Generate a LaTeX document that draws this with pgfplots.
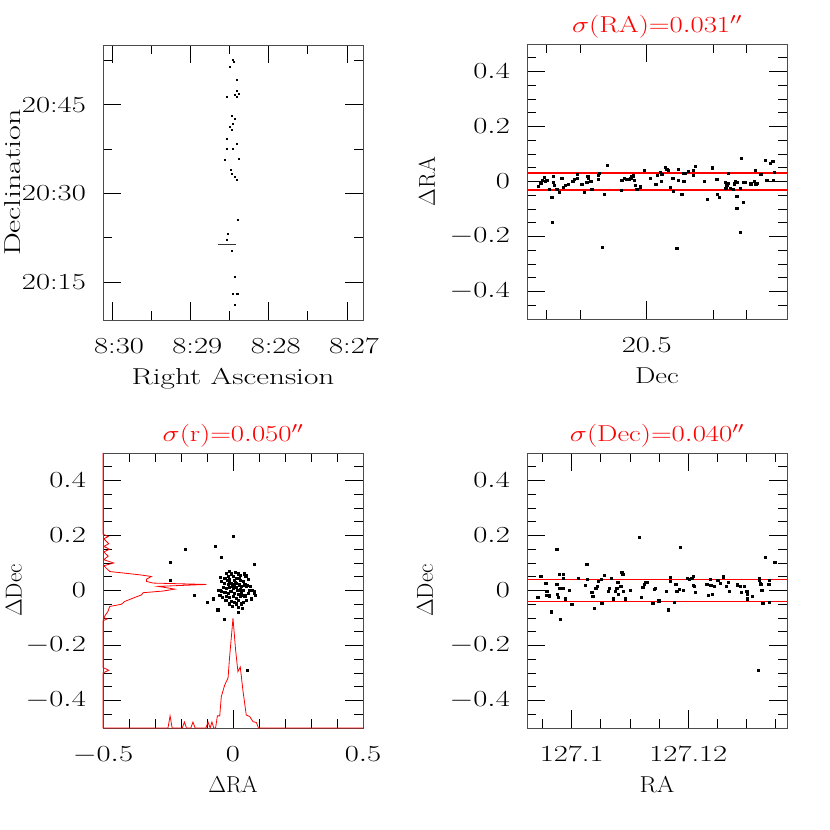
\RequirePackage{fix-cm}
\documentclass[border=0pt]{standalone}
\usepackage{fontspec}
\usepackage{graphicx}
\usepackage{pgfplots}
\pgfplotsset{compat=1.18}
\definecolor{sigred}{RGB}{255,0,0}

% SM fonts are wide: stretch every text horizontally
\newcommand{\sx}[1]{\scalebox{1.33}[1]{#1}}

\pgfplotsset{
  smpanel/.style={
    scale only axis, width=260pt, height=275pt,
    tick align=inside, major tick length=18pt, minor tick length=9pt,
    axis line style={black!70, line width=0.9pt},
    major tick style={black, line width=0.9pt},
    minor tick style={black, line width=0.9pt},
    xticklabel style={font=\fontsize{23}{27}\selectfont, anchor=base, inner sep=0pt, yshift=-34pt},
    yticklabel style={font=\fontsize{23}{27}\selectfont, anchor=east, inner sep=0pt, xshift=-17pt},
    xlabel style={font=\fontsize{23}{27}\selectfont, at={(axis description cs:0.5,-0.236)}, anchor=base, inner sep=0pt},
    ylabel style={font=\fontsize{23}{27}\selectfont, anchor=center},
    title style={font=\fontsize{23}{27}\selectfont, at={(axis description cs:0.5,1)}, anchor=base,
                 inner sep=0pt, yshift=5pt, text=sigred},
  },
  dpanel/.style={
    smpanel, ymin=-0.5, ymax=0.5,
    ytick={-0.4,-0.2,0,0.2,0.4},
    minor ytick={-0.45,-0.35,-0.3,-0.25,-0.15,-0.1,-0.05,0.05,0.1,0.15,0.25,0.3,0.35,0.45},
    yticklabel={\sx{$\pgfmathprintnumber{\tick}$}},
  },
  stardots/.style={only marks, mark=square*, mark size=1.05pt, mark options={draw=none, fill=black}},
  sigline/.style={draw=sigred, line width=1.4pt, mark=none, forget plot},
}

\begin{document}
\begin{tikzpicture}
\path[use as bounding box] (0pt,0pt) rectangle (830pt,830pt);

% ---- top left: sky positions (RA in minutes past 8h, Dec in arcmin past 20 deg)
\begin{axis}[smpanel, at={(103pt,785pt)}, anchor=north west,
  x dir=reverse, xmin=26.796, xmax=30.115, ymin=8.6, ymax=55.1,
  xtick={27,28,29,30}, xticklabels={\sx{8:27},\sx{8:28},\sx{8:29},\sx{8:30}},
  minor xtick={27.5,28.5,29.5},
  ytick={15,30,45}, yticklabels={\sx{20:15},\sx{20:30},\sx{20:45}},
  minor ytick={22.5,37.5,52.5},
  xticklabel style={xshift=7pt},
  xlabel={\scalebox{1.36}[1]{Right Ascension}},
  ylabel={\scalebox{1.4}[1]{Declination}},
  ylabel style={at={(axis description cs:-0.346,0.5)}},
]
\addplot[only marks, mark=square*, mark size=0.55pt, mark options={draw=none, fill=black}] coordinates {
(28.455,52.56)(28.442,52.27)(28.497,51.43)(28.412,49.30)(28.404,47.32)(28.386,46.93)
(28.433,46.76)(28.539,46.35)(28.404,46.35)(28.476,43.09)(28.433,42.70)(28.455,41.85)
(28.497,41.28)(28.467,40.72)(28.531,39.32)(28.404,38.47)(28.531,37.63)(28.455,37.63)
(28.561,35.65)(28.378,35.94)(28.488,33.96)(28.476,33.40)(28.433,32.82)(28.404,32.38)
(28.391,25.50)(28.518,23.14)(28.539,22.24)(28.476,20.31)(28.433,15.91)(28.463,13.11)
(28.404,13.11)(28.392,13.11)(28.433,11.13)
};
\addplot[black!80, line width=0.7pt] coordinates {(28.646,21.39)(28.412,21.39)};
\end{axis}

% ---- top right: Delta RA against Dec
\begin{axis}[dpanel, at={(527pt,786pt)}, anchor=north west, clip=false,
  xmin=20.141, xmax=20.921,
  xtick={20.5}, xticklabels={\sx{20.5}},
  minor xtick={20.2,20.3,20.7,20.8},
  xlabel={\scalebox{1.25}[1]{Dec}},
  ylabel={$\Delta$RA},
  ylabel style={at={(axis description cs:-0.385,0.5)}},
  title={\scalebox{1.25}[1]{$\sigma(\mathrm{RA}){=}0.031''$}},
]
\addplot[stardots] coordinates {
(20.175,-0.016)(20.182,-0.007)(20.187,0.005)(20.192,0.015)(20.195,0.001)(20.200,0.004)
(20.208,-0.027)(20.215,-0.058)(20.217,-0.149)(20.220,0.019)(20.220,-0.002)(20.222,-0.012)
(20.230,-0.029)(20.238,-0.039)(20.245,0.013)(20.250,-0.021)(20.256,-0.015)(20.265,-0.011)
(20.278,0.001)(20.282,0.007)(20.292,0.027)(20.292,0.012)(20.305,-0.010)(20.312,-0.039)
(20.320,-0.004)(20.323,0.018)(20.325,0.012)(20.332,0.001)(20.335,-0.029)(20.355,0.022)
(20.355,0.007)(20.357,0.029)(20.367,-0.238)(20.372,-0.045)(20.382,0.060)(20.423,-0.033)
(20.425,0.005)(20.432,0.013)(20.440,0.007)(20.446,0.007)(20.452,0.013)(20.455,0.019)
(20.460,0.021)(20.463,0.005)(20.465,-0.013)(20.470,-0.027)(20.480,-0.019)(20.492,0.042)
(20.510,0.012)(20.527,-0.010)(20.532,0.024)(20.540,0.034)(20.544,0.000)(20.545,0.028)
(20.555,0.052)(20.560,0.044)(20.565,0.040)(20.570,-0.022)(20.578,0.013)(20.580,-0.034)
(20.590,-0.242)(20.595,0.044)(20.595,0.006)(20.605,-0.045)(20.609,0.031)(20.611,0.002)
(20.615,0.031)(20.625,0.037)(20.640,0.042)(20.640,0.022)(20.646,0.057)(20.673,0.001)
(20.682,-0.065)(20.696,0.050)(20.710,0.007)(20.711,-0.045)(20.718,-0.057)(20.736,-0.001)
(20.740,-0.015)(20.744,0.030)(20.745,-0.005)(20.737,-0.024)(20.750,-0.023)(20.760,-0.027)
(20.763,-0.008)(20.765,0.000)(20.770,-0.002)(20.770,-0.054)(20.770,-0.097)(20.780,-0.184)
(20.783,0.086)(20.780,-0.024)(20.789,-0.002)(20.790,-0.075)(20.795,-0.002)(20.812,-0.008)
(20.822,0.001)(20.825,0.040)(20.827,-0.008)(20.832,-0.006)(20.842,0.028)(20.856,0.079)
(20.860,0.005)(20.870,0.068)(20.878,0.073)(20.880,0.004)(20.883,0.033)
};
\addplot[sigline] coordinates {(20.141,0.031)(20.921,0.031)};
\addplot[sigline] coordinates {(20.141,-0.031)(20.921,-0.031)};
\end{axis}

% ---- bottom left: Delta Dec against Delta RA, with both histograms
\begin{axis}[dpanel, at={(103pt,377pt)}, anchor=north west, clip=false,
  xmin=-0.5, xmax=0.5,
  xtick={-0.5,0,0.5},
  xticklabel={\sx{$\pgfmathprintnumber{\tick}$}},
  minor xtick={-0.4,-0.3,-0.2,-0.1,0.1,0.2,0.3,0.4},
  xlabel={$\Delta$RA},
  ylabel={$\Delta$Dec},
  ylabel style={at={(axis description cs:-0.343,0.5)}},
  title={\scalebox{1.25}[1]{$\sigma(\mathrm{r}){=}0.050''$}},
]
\addplot[stardots] coordinates {
(0.000,0.196)(-0.183,0.150)(-0.067,0.160)(-0.243,0.104)(-0.045,0.120)(0.083,0.096)
(-0.240,0.039)(-0.150,-0.016)(-0.100,-0.042)(-0.077,-0.030)(-0.059,-0.070)(-0.035,-0.103)
(0.054,-0.291)(0.019,-0.079)
(-0.026,0.063)(-0.015,0.069)(-0.006,0.061)(0.000,0.053)(0.019,0.061)(0.028,0.057)
(0.042,0.061)(0.049,0.051)(-0.032,0.045)(-0.023,0.039)(-0.013,0.041)(0.004,0.039)
(0.013,0.045)(0.026,0.039)(0.038,0.033)(-0.045,0.033)(-0.035,0.027)(-0.019,0.024)
(-0.006,0.027)(0.003,0.021)(0.013,0.027)(0.023,0.021)(0.032,0.017)(0.045,0.021)
(0.051,0.015)(0.064,0.002)(-0.038,0.012)(-0.026,0.008)(-0.013,0.012)(0.000,0.008)
(0.013,0.012)(0.026,0.005)(0.038,0.002)(-0.058,0.002)(-0.045,-0.004)(-0.032,-0.007)
(-0.019,-0.010)(-0.006,-0.004)(0.006,-0.010)(0.019,-0.012)(0.032,-0.016)(0.045,-0.019)
(0.071,-0.030)(-0.051,-0.016)(-0.026,-0.022)(-0.013,-0.024)(0.000,-0.022)(0.013,-0.028)
(0.026,-0.022)(-0.028,-0.034)(-0.006,-0.040)(0.006,-0.044)(0.019,-0.034)(0.032,-0.048)
(-0.013,-0.048)(0.013,-0.048)(0.036,-0.064)(0.074,0.002)(0.067,0.017)(0.055,0.019)
(0.081,-0.004)(0.083,-0.008)(0.051,0.057)(-0.051,0.000)(0.008,0.030)(-0.004,0.016)
(0.018,0.002)(-0.010,-0.002)(0.024,0.044)(-0.020,0.052)(0.008,0.066)(0.030,-0.005)
(-0.040,-0.024)(0.050,-0.034)(0.040,-0.041)(-0.002,-0.058)(0.020,-0.060)(-0.016,0.034)
(0.060,0.040)(0.060,-0.010)(-0.048,0.048)(0.086,-0.018)
};
% histogram of Delta RA along the bottom
\addplot[sigline, line width=0.8pt] coordinates {
(-0.5,-0.5)(-0.250,-0.5)(-0.242,-0.456)(-0.234,-0.5)(-0.195,-0.5)(-0.187,-0.478)
(-0.179,-0.5)(-0.162,-0.5)(-0.154,-0.478)(-0.146,-0.5)(-0.104,-0.5)(-0.096,-0.478)
(-0.088,-0.5)(-0.081,-0.478)(-0.074,-0.5)(-0.067,-0.5)(-0.060,-0.456)(-0.051,-0.456)
(-0.045,-0.386)(-0.032,-0.344)(-0.019,-0.318)(-0.013,-0.241)(0.000,-0.101)(0.010,-0.216)
(0.019,-0.295)(0.028,-0.278)(0.038,-0.362)(0.051,-0.453)(0.064,-0.458)(0.077,-0.477)
(0.090,-0.480)(0.098,-0.5)(0.5,-0.5)
};
% histogram of Delta Dec along the left side
\addplot[sigline, line width=0.8pt] coordinates {
(-0.5,0.5)(-0.5,0.205)(-0.480,0.196)(-0.497,0.188)(-0.478,0.170)(-0.497,0.160)
(-0.475,0.150)(-0.497,0.140)(-0.480,0.125)(-0.497,0.112)(-0.459,0.100)(-0.497,0.090)
(-0.474,0.069)(-0.359,0.057)(-0.314,0.051)(-0.333,0.041)(-0.333,0.033)(-0.308,0.027)
(-0.102,0.022)(-0.288,0.015)(-0.224,0.005)(-0.269,-0.002)(-0.346,-0.008)(-0.352,-0.016)
(-0.385,-0.028)(-0.417,-0.040)(-0.429,-0.050)(-0.474,-0.058)(-0.481,-0.076)(-0.497,-0.098)
(-0.485,-0.104)(-0.5,-0.110)(-0.5,-0.280)(-0.478,-0.290)(-0.5,-0.300)(-0.5,-0.5)
};
\end{axis}

% ---- bottom right: Delta Dec against RA
% RA is kept as degrees minus 127 and plotted in millidegrees from 127.1
\begin{axis}[dpanel, at={(527pt,377pt)}, anchor=north west,
  x filter/.expression={1000*(x-0.1)},
  xmin=-7.66, xmax=36.91,
  xtick={0,20}, xticklabels={\sx{127.1},\sx{127.12}},
  minor xtick={-5,5,10,15,25,30,35},
  xlabel={\scalebox{1.1}[1]{RA}},
  ylabel={$\Delta$Dec},
  ylabel style={at={(axis description cs:-0.392,0.5)}},
  title={\scalebox{1.25}[1]{$\sigma(\mathrm{Dec}){=}0.040''$}},
]
\addplot[sigline] coordinates {(0.090,0.041)(0.140,0.041)};
\addplot[sigline] coordinates {(0.090,-0.040)(0.140,-0.040)};
\addplot[stardots] coordinates {
(0.09417,-0.024)(0.09469,0.051)(0.09554,0.027)(0.09571,-0.004)(0.09571,-0.016)(0.09617,-0.019)
(0.09646,-0.077)(0.09743,0.150)(0.09743,0.023)(0.09754,-0.013)(0.09771,-0.025)(0.09783,0.008)
(0.09789,0.060)(0.09800,-0.103)(0.09846,0.008)(0.09857,0.060)(0.09857,0.045)(0.09886,-0.030)
(0.09960,0.000)(0.10000,-0.050)(0.10114,0.045)(0.10234,0.018)(0.10257,0.095)(0.10269,0.041)
(0.10343,-0.007)(0.10360,-0.022)(0.10389,-0.064)(0.10411,0.008)(0.10440,0.017)(0.10457,0.033)
(0.10503,0.041)(0.10514,-0.046)(0.10554,0.054)(0.10629,-0.004)(0.10646,0.008)(0.10674,0.045)
(0.10714,-0.030)(0.10743,-0.004)(0.10771,0.008)(0.10789,0.029)(0.10800,-0.012)(0.10840,0.014)
(0.10857,0.066)(0.10874,0.059)(0.10886,-0.004)(0.10914,-0.030)(0.11000,0.002)(0.11154,0.194)
(0.11189,-0.024)(0.11217,0.012)(0.11240,0.024)(0.11269,0.029)(0.11297,0.029)(0.11389,-0.047)
(0.11417,0.005)(0.11434,0.008)(0.11491,-0.037)(0.11617,-0.002)(0.11657,-0.070)(0.11686,0.048)
(0.11691,0.033)(0.11754,-0.043)(0.11783,0.024)(0.11800,-0.004)(0.11840,0.005)(0.11857,0.159)
(0.11914,0.002)(0.11983,0.046)(0.12017,0.041)(0.12057,0.045)(0.12086,0.051)(0.12086,0.018)
(0.12103,0.017)(0.12114,-0.007)(0.12314,0.023)(0.12343,-0.016)(0.12371,0.041)(0.12383,0.018)
(0.12411,-0.013)(0.12440,0.014)(0.12503,0.036)(0.12543,0.027)(0.12600,0.050)(0.12646,0.017)
(0.12686,0.029)(0.12703,-0.004)(0.12840,0.021)(0.12886,0.016)(0.12903,-0.007)(0.12954,0.016)
(0.13000,-0.001)(0.13011,-0.012)(0.13011,-0.030)(0.13097,-0.021)(0.13194,-0.290)(0.13211,0.045)
(0.13217,0.036)(0.13229,0.027)(0.13240,0.023)(0.13257,0.001)(0.13274,-0.046)(0.13320,0.120)
(0.13377,0.024)(0.13389,0.037)(0.13389,-0.042)(0.13480,0.104)
};
\end{axis}
\end{tikzpicture}
\end{document}
